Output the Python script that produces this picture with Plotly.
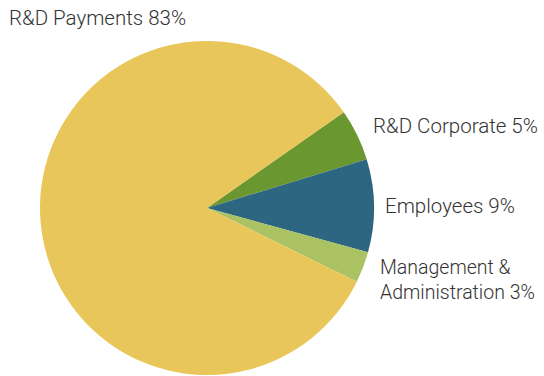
import plotly.graph_objects as go

labels = ["R&D Corporate", "Employees", "Management & Administration", "R&D Payments"]
values = [5, 9, 3, 83]
colors = ["#6A972F", "#2C6681", "#AAC262", "#E9C65A"]

W, H = 544, 376
fig = go.Figure(go.Pie(
    labels=labels, values=values, sort=False, direction="clockwise", rotation=55,
    marker=dict(colors=colors, line=dict(width=0)),
    textinfo="none", hoverinfo="label+percent",
    domain=dict(x=[40 / W, 374 / W], y=[1 / H, 335 / H]),
    showlegend=False,
))

font = dict(family="Roboto", size=20, color="#333333", weight=300)
# (text, left x px, center y px, font size)
label_pos = [
    ("R&D Payments 83%", 7, 18, 20.5),
    ("R&D Corporate 5%", 371, 126, 20.5),
    ("Employees 9%", 383, 206, 20.5),
    ("Management &<br>Administration 3%", 378, 280, 19.5),
]
for txt, x, y, sz in label_pos:
    fig.add_annotation(text=txt, x=x / W, y=1 - y / H, xref="paper", yref="paper",
                       xanchor="left", yanchor="middle", showarrow=False, align="left",
                       font=dict(font, size=sz))

fig.update_layout(width=W, height=H, margin=dict(l=0, r=0, t=0, b=0),
                  paper_bgcolor="white", plot_bgcolor="white")
fig.write_html("out.html")
